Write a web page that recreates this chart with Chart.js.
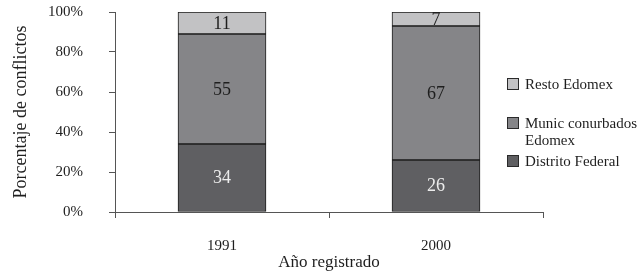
<!DOCTYPE html>
<html>
<head>
<meta charset="utf-8">
<script src="https://cdn.jsdelivr.net/npm/chart.js@4/dist/chart.umd.min.js"></script>
<style>
  html, body { margin: 0; padding: 0; background: #fff; }
  #wrap { width: 638px; height: 274px; }
</style>
</head>
<body>
<div id="wrap"><canvas id="c" width="638" height="274"></canvas></div>
<script>
const categories = ['1991', '2000'];
const seriesNames = ['Distrito Federal', 'Munic conurbados Edomex', 'Resto Edomex'];
const distritoFederal = [34, 26];
const municConurbados = [55, 67];
const restoEdomex = [11, 7];
const yTicks = [0, 20, 40, 60, 80, 100];

const FONT = "'Liberation Serif', 'DejaVu Serif', serif";
const colors = ['#5f5f62', '#858588', '#c2c2c4'];
const labelColors = ['#ececec', '#1e1e1e', '#1e1e1e'];
const legendLines = [['Distrito Federal'], ['Munic conurbados', 'Edomex'], ['Resto Edomex']];

const seriesValues = [distritoFederal, municConurbados, restoEdomex];

const valueLabels = {
  id: 'valueLabels',
  afterDatasetsDraw(chart) {
    const ctx = chart.ctx;
    ctx.save();
    ctx.font = '18px ' + FONT;
    ctx.textAlign = 'center';
    ctx.textBaseline = 'middle';
    chart.data.datasets.forEach((ds, i) => {
      const meta = chart.getDatasetMeta(i);
      meta.data.forEach((bar, j) => {
        const y = (bar.y + bar.base) / 2;
        ctx.fillStyle = labelColors[i];
        ctx.fillText(String(ds.data[j]), bar.x, y + 1);
      });
    });
    ctx.restore();
  }
};

const sideLegend = {
  id: 'sideLegend',
  afterDraw(chart) {
    const ctx = chart.ctx;
    ctx.save();
    ctx.font = '15px ' + FONT;
    ctx.textAlign = 'left';
    ctx.textBaseline = 'middle';
    const order = [2, 1, 0];
    const boxTops = [78, 117, 155];
    order.forEach((di, k) => {
      const top = boxTops[k];
      ctx.fillStyle = colors[di];
      ctx.fillRect(507.5, top + 0.5, 11, 11);
      ctx.strokeStyle = '#2a2a2a';
      ctx.lineWidth = 1;
      ctx.strokeRect(507.5, top + 0.5, 11, 11);
      ctx.fillStyle = '#1e1e1e';
      legendLines[di].forEach((line, li) => {
        ctx.fillText(line, 525, top + 7 + li * 17);
      });
    });
    ctx.restore();
  }
};

new Chart(document.getElementById('c'), {
  type: 'bar',
  data: {
    labels: categories,
    datasets: seriesValues.map((vals, i) => ({
      label: seriesNames[i],
      data: vals,
      backgroundColor: colors[i],
      borderColor: '#1c1c1c',
      borderWidth: 1,
      borderSkipped: false,
      barThickness: 88
    }))
  },
  options: {
    responsive: false,
    animation: false,
    devicePixelRatio: 1,
    layout: { padding: { left: 0, right: 95, top: 12, bottom: 0 } },
    plugins: {
      legend: { display: false },
      tooltip: { enabled: false }
    },
    scales: {
      x: {
        stacked: true,
        offset: true,
        grid: { display: true, drawOnChartArea: false, drawTicks: true, tickLength: 6, color: '#555', offset: true },
        border: { display: true, color: '#555', width: 1 },
        ticks: { color: '#1e1e1e', font: { family: FONT, size: 15 }, padding: 19, maxRotation: 0 },
        title: { display: true, text: 'Año registrado', color: '#1e1e1e', font: { family: FONT, size: 17 }, padding: { top: 0, bottom: 1 } },
        afterFit(scale) { scale.height = 62; scale.paddingLeft = 0; scale.paddingRight = 0; }
      },
      y: {
        stacked: true,
        min: 0,
        max: 100,
        afterBuildTicks(scale) { scale.ticks = yTicks.map(v => ({ value: v })); },
        grid: { display: true, drawOnChartArea: false, drawTicks: true, tickLength: 6, color: '#555' },
        border: { display: true, color: '#555', width: 1 },
        ticks: { color: '#1e1e1e', font: { family: FONT, size: 15 }, padding: 26, callback: v => v + '%' },
        title: { display: true, text: 'Porcentaje de conflictos', color: '#1e1e1e', font: { family: FONT, size: 18 }, padding: { top: 10, bottom: 0 } },
        afterFit(scale) { scale.width = 115; scale.paddingTop = 9; scale.paddingBottom = 9; }
      }
    }
  },
  plugins: [valueLabels, sideLegend]
});
</script>
</body>
</html>
